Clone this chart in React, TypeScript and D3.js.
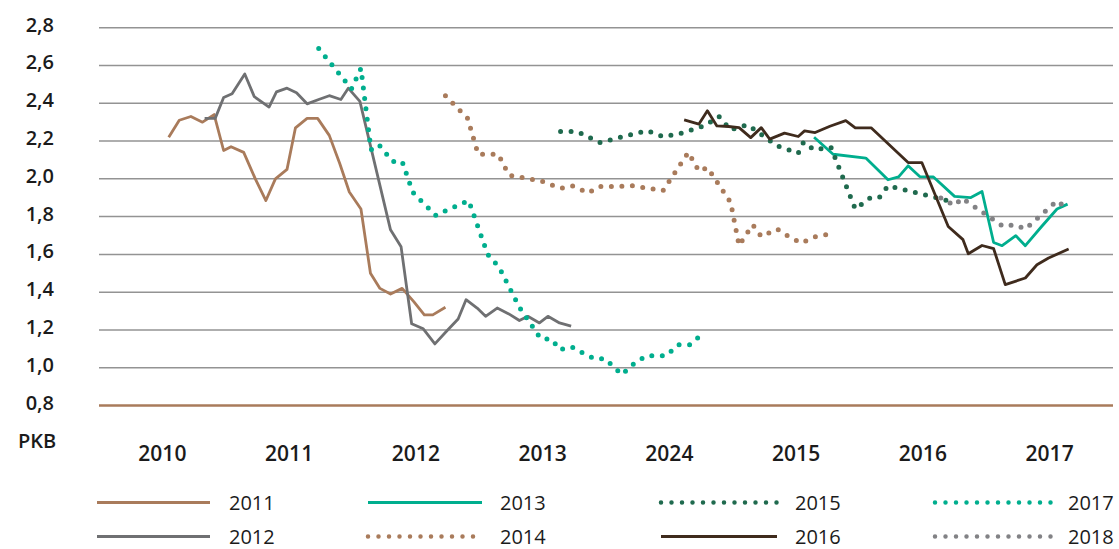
import * as d3 from 'd3'

// months counted from Jan 2010 (0) ; value in %
const years = ['2010', '2011', '2012', '2013', '2024', '2015', '2016', '2017']
const yTicks = [0.8, 1.0, 1.2, 1.4, 1.6, 1.8, 2.0, 2.2, 2.4, 2.6, 2.8]

const s2011: [number, number][] = [
  [6.6, 2.22], [7.6, 2.31], [8.7, 2.33], [9.8, 2.3], [10.9, 2.34], [11.8, 2.15], [12.5, 2.17],
  [13.7, 2.14], [14.8, 2.0], [15.8, 1.885], [16.7, 2.0], [17.8, 2.05], [18.6, 2.27], [19.7, 2.32],
  [20.7, 2.32], [21.8, 2.23], [22.8, 2.08], [23.7, 1.93], [24.8, 1.84], [25.7, 1.5], [26.6, 1.42],
  [27.6, 1.39], [28.7, 1.42], [29.8, 1.35], [30.8, 1.28], [31.6, 1.28], [32.8, 1.32],
]
const s2012: [number, number][] = [
  [10.0, 2.32], [11.0, 2.32], [11.8, 2.43], [12.6, 2.45], [13.8, 2.555], [14.7, 2.435], [16.1, 2.38],
  [16.8, 2.46], [17.8, 2.48], [18.7, 2.456], [19.7, 2.397], [20.8, 2.42], [21.8, 2.44], [22.9, 2.42],
  [23.6, 2.48], [24.7, 2.41], [27.6, 1.73], [28.6, 1.64], [29.6, 1.233], [30.7, 1.206], [31.8, 1.126],
  [32.9, 1.193], [34.0, 1.258], [34.75, 1.36], [35.8, 1.316], [36.6, 1.272], [37.7, 1.316],
  [38.8, 1.285], [39.8, 1.25], [40.6, 1.272], [41.7, 1.237], [42.5, 1.272], [43.6, 1.237], [44.7, 1.22],
]
const s2013: [number, number][] = [
  [67.7, 2.22], [69.5, 2.13], [72.6, 2.11], [74.7, 1.995], [75.7, 2.01], [76.6, 2.069], [77.7, 2.012],
  [79.0, 2.01], [81.0, 1.907], [82.5, 1.9], [83.6, 1.933], [84.7, 1.663], [85.5, 1.646], [86.8, 1.699],
  [87.7, 1.646], [89.2, 1.745], [90.7, 1.84], [91.7, 1.866],
]
const s2014: [number, number][] = [
  [32.8, 2.44], [34.9, 2.32], [35.9, 2.13], [37.8, 2.13], [38.8, 2.02], [39.7, 2.01], [40.7, 2.0],
  [41.8, 1.99], [42.7, 1.97], [43.7, 1.95], [44.8, 1.963], [45.5, 1.946], [46.3, 1.925], [47.4, 1.96],
  [48.4, 1.96], [49.5, 1.96], [50.6, 1.963], [51.5, 1.954], [52.4, 1.946], [53.4, 1.937], [55.8, 2.14],
  [56.3, 2.09], [56.8, 2.04], [57.6, 2.06], [59.8, 1.875], [60.6, 1.647], [61.2, 1.7], [61.9, 1.757],
  [62.7, 1.695], [63.4, 1.713], [64.2, 1.734], [64.9, 1.708], [65.7, 1.683], [66.5, 1.66], [67.2, 1.678],
  [67.9, 1.695], [69.3, 1.708],
]
const s2015: [number, number][] = [
  [43.7, 2.25], [45.3, 2.25], [47.4, 2.192], [51.9, 2.255], [53.4, 2.224], [54.9, 2.238], [57.3, 2.28],
  [58.7, 2.33], [59.8, 2.259], [61.4, 2.286], [64.2, 2.175], [66.2, 2.136], [66.7, 2.194], [67.7, 2.153],
  [69.3, 2.167], [71.6, 1.84], [73.1, 1.903], [73.9, 1.903], [74.7, 1.963], [80.7, 1.88],
]
const s2016: [number, number][] = [
  [55.4, 2.312], [56.8, 2.29], [57.6, 2.36], [58.5, 2.28], [59.6, 2.277], [60.6, 2.271], [61.7, 2.218],
  [62.7, 2.271], [63.5, 2.21], [64.9, 2.242], [66.2, 2.224], [66.8, 2.254], [67.8, 2.245], [69.2, 2.278],
  [70.7, 2.308], [71.6, 2.27], [73.1, 2.27], [76.6, 2.086], [77.9, 2.086], [80.4, 1.748], [81.8, 1.678],
  [82.3, 1.603], [83.6, 1.647], [84.7, 1.63], [85.8, 1.44], [87.7, 1.475], [88.8, 1.545], [89.9, 1.581],
  [91.8, 1.628],
]
const s2017: [number, number][] = [
  [20.8, 2.69], [23.9, 2.476], [24.8, 2.585], [25.75, 2.153], [26.5, 2.18], [27.8, 2.092], [28.7, 2.092],
  [29.7, 1.93], [30.4, 1.889], [31.9, 1.806], [32.9, 1.833], [35.0, 1.885], [36.8, 1.6], [37.9, 1.53],
  [39.8, 1.32], [41.8, 1.155], [42.9, 1.15], [43.6, 1.096], [44.75, 1.11], [45.8, 1.078], [46.9, 1.048],
  [47.9, 1.048], [49.5, 0.964], [50.8, 1.03], [51.9, 1.064], [53.7, 1.064], [54.85, 1.122], [55.96, 1.122],
  [56.8, 1.163],
]
const s2018: [number, number][] = [
  [79.7, 1.898], [81.0, 1.859], [81.7, 1.898], [85.6, 1.748], [86.7, 1.757], [87.7, 1.734], [90.7, 1.884],
  [91.7, 1.84],
]

const brown = '#a97b5b'
const grey = '#6f7072'
const teal = '#00ae8e'
const darkGreen = '#1f6a4e'
const darkBrown = '#3f2b1d'
const lightGrey = '#828285'

type Series = { name: string; data: [number, number][]; color: string; dotted: boolean }

const series: Series[] = [
  { name: '2011', data: s2011, color: brown, dotted: false },
  { name: '2012', data: s2012, color: grey, dotted: false },
  { name: '2013', data: s2013, color: teal, dotted: false },
  { name: '2014', data: s2014, color: brown, dotted: true },
  { name: '2015', data: s2015, color: darkGreen, dotted: true },
  { name: '2016', data: s2016, color: darkBrown, dotted: false },
  { name: '2017', data: s2017, color: teal, dotted: true },
  { name: '2018', data: s2018, color: lightGrey, dotted: true },
]

const width = 1119
const height = 549
const left = 99
const right = 1113
const font = '"Open Sans", "Noto Sans", sans-serif'

// legend columns (line start, label x)
const legendCols = [
  { x0: 97, x1: 210, tx: 229 },
  { x0: 368, x1: 482, tx: 500 },
  { x0: 661, x1: 777, tx: 795 },
  { x0: 935, x1: 1052, tx: 1068 },
]
const legendRows = [502.5, 536.5]

export default function App() {
  const x = d3.scaleLinear().domain([0, 96]).range([left, right])
  const y = d3.scaleLinear().domain([0.8, 2.8]).range([405.5, 27.7])
  const band = d3.scaleBand().domain(years).range([left, right])

  const line = d3
    .line<[number, number]>()
    .x((d) => x(d[0]))
    .y((d) => y(d[1]))

  return (
    <div style={{ position: 'absolute', left: 0, top: 0 }}>
      <svg width={width} height={height} style={{ display: 'block', background: '#fff' }}>
        {/* gridlines */}
        {yTicks.map((t) => (
          <g key={t}>
            {t > 0.8 && (
              <line x1={left} x2={right} y1={y(t)} y2={y(t)} stroke="#939393" strokeWidth={1.5} />
            )}
            <text
              x={54}
              y={y(t) + 4}
              textAnchor="end"
              fontFamily={font}
              fontWeight={600}
              fontSize={20}
              fill="#1b1b1b"
            >
              {t.toFixed(1).replace('.', ',')}
            </text>
          </g>
        ))}
        <line x1={left} x2={right} y1={y(0.8)} y2={y(0.8)} stroke={brown} strokeWidth={2.6} />

        {/* x labels */}
        <text x={18} y={448} fontFamily={font} fontWeight={600} fontSize={20} fill="#1b1b1b">
          PKB
        </text>
        {years.map((yr) => (
          <text
            key={yr}
            x={(band(yr) ?? 0) + band.bandwidth() / 2}
            y={461}
            textAnchor="middle"
            fontFamily={font}
            fontWeight={600}
            fontSize={21}
            fill="#1b1b1b"
          >
            {yr}
          </text>
        ))}

        {/* series */}
        {series.map((s) => (
          <path
            key={s.name}
            d={line(s.data) || undefined}
            fill="none"
            stroke={s.color}
            strokeWidth={s.dotted ? 5 : 2.8}
            strokeDasharray={s.dotted ? '0 10.5' : undefined}
            strokeLinecap={s.dotted ? 'round' : 'butt'}
            strokeLinejoin="round"
          />
        ))}

        {/* legend */}
        {series.map((s, i) => {
          const col = legendCols[Math.floor(i / 2)]
          const ry = legendRows[i % 2]
          return (
            <g key={'lg' + s.name}>
              <line
                x1={col.x0}
                x2={col.x1}
                y1={ry}
                y2={ry}
                stroke={s.color}
                strokeWidth={s.dotted ? 4.5 : 2.8}
                strokeDasharray={s.dotted ? '0 10.5' : undefined}
                strokeLinecap={s.dotted ? 'round' : 'butt'}
              />
              <text
                x={col.tx}
                y={ry + 7}
                fontFamily={font}
                fontSize={20}
                fill="#1b1b1b"
              >
                {s.name}
              </text>
            </g>
          )
        })}
      </svg>
    </div>
  )
}
